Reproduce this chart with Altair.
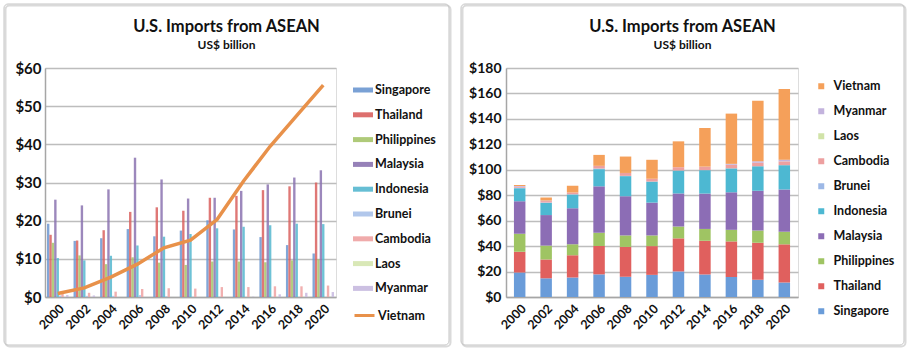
import altair as alt
import pandas as pd

years = ["2000", "2002", "2004", "2006", "2008", "2010", "2012", "2014", "2016", "2018", "2020"]
countries = ["Singapore", "Thailand", "Philippines", "Malaysia", "Indonesia",
             "Brunei", "Cambodia", "Laos", "Myanmar", "Vietnam"]

singapore   = [19.2, 14.7, 15.4, 17.8, 15.9, 17.4, 20.1, 17.7, 15.7, 13.6, 11.4]
thailand    = [16.3, 14.8, 17.5, 22.3, 23.5, 22.6, 26.0, 26.5, 28.0, 29.0, 30.0]
philippines = [14.2, 10.9, 8.6, 10.4, 9.0, 8.4, 9.3, 9.3, 9.1, 9.6, 9.9]
malaysia    = [25.5, 24.0, 28.2, 36.5, 30.8, 25.8, 26.0, 27.8, 29.5, 31.3, 33.2]
indonesia   = [10.2, 9.6, 10.8, 13.5, 15.8, 16.5, 18.0, 18.4, 18.8, 19.2, 19.1]
brunei      = [0.4, 0.3, 0.3, 0.5, 0.2, 0.05, 0.03, 0.02, 0.02, 0.02, 0.02]
cambodia    = [0.9, 1.1, 1.4, 2.1, 2.3, 2.2, 2.6, 2.6, 2.8, 2.8, 3.0]
laos        = [0.0, 0.0, 0.0, 0.0, 0.0, 0.0, 0.02, 0.03, 0.03, 0.05, 0.06]
myanmar     = [0.5, 0.4, 0.0, 0.0, 0.0, 0.0, 0.0, 0.1, 0.7, 1.1, 1.3]
vietnam     = [0.9, 2.4, 5.2, 8.6, 12.9, 14.9, 20.3, 30.4, 39.5, 47.5, 55.5]

title_text = ["U.S. Imports from ASEAN"]
subtitle_text = ["US$ billion"]
left_ticks = [0, 10, 20, 30, 40, 50, 60]
right_ticks = [0, 20, 40, 60, 80, 100, 120, 140, 160, 180]

left_colors = ["#6C97D0", "#D9605E", "#A6C46A", "#8B73B0", "#55B7CF",
               "#A9C1E9", "#EEA2A2", "#D5E5AF", "#C7B9DF"]
line_color = "#E8914A"
right_colors = ["#6A9CD9", "#E0605E", "#9FC463", "#8C6DB5", "#4DB8D2",
                "#9DB8E6", "#EDA0A0", "#D1E3A8", "#C3B3DD", "#F5A05A"]

series = dict(zip(countries, [singapore, thailand, philippines, malaysia, indonesia,
                              brunei, cambodia, laos, myanmar, vietnam]))
rows = []
for ci, c in enumerate(countries):
    for y, v in zip(years, series[c]):
        rows.append({"year": y, "country": c, "value": v, "order": ci})
df = pd.DataFrame(rows)

FONT = "Lato"
TXT = "#111111"
GRID = "#BDBDBD"
DOMAIN = "#A6A6A6"
W, H = 291, 229


def frame(x0, x1):
    one = pd.DataFrame({"k": [0]})
    shadow = alt.Chart(one).mark_rect(fillOpacity=0, stroke="#DADADA", strokeWidth=2,
                                      cornerRadius=4).encode(
        x=alt.value(x0 + 1.5), x2=alt.value(x1 + 1.5), y=alt.value(-62.5), y2=alt.value(278.5))
    box = alt.Chart(one).mark_rect(fillOpacity=0, stroke="#C4C4C4", strokeWidth=1,
                                   cornerRadius=4).encode(
        x=alt.value(x0), x2=alt.value(x1), y=alt.value(-64), y2=alt.value(277))
    return shadow, box


def titles(cx):
    t = alt.Chart(pd.DataFrame({"t": title_text})).mark_text(
        font=FONT, fontWeight="bold", fontSize=16.5, color=TXT, align="center",
        baseline="alphabetic").encode(text="t:N", x=alt.value(cx), y=alt.value(-36))
    s = alt.Chart(pd.DataFrame({"t": subtitle_text})).mark_text(
        font=FONT, fontWeight="bold", fontSize=12, color=TXT, align="center",
        baseline="alphabetic").encode(text="t:N", x=alt.value(cx), y=alt.value(-19.5))
    return t, s


def y_axis(ticks, size, pad):
    return alt.Axis(values=ticks, labelExpr="'$' + datum.value", grid=True,
                    gridColor=GRID, gridWidth=1.5, ticks=False, domain=True,
                    domainColor=DOMAIN, domainWidth=1.5, labelPadding=pad,
                    labelFontSize=size, labelFont=FONT, labelFontWeight="bold",
                    labelColor=TXT, labelOverlap=False, title=None)


def x_axis():
    return alt.Axis(labelAngle=-45, ticks=False, domain=True, domainColor=DOMAIN,
                    domainWidth=1.5, labelPadding=5, labelFontSize=12.5, labelFont=FONT,
                    labelFontWeight="bold", labelColor=TXT, grid=False, title=None)


base = alt.Chart(df)

# ---- left panel: grouped bars + Vietnam line ----
xL = alt.X("year:N", sort=years, title=None,
           scale=alt.Scale(paddingInner=0.19, paddingOuter=0.075), axis=x_axis())
yL = alt.Y("value:Q", scale=alt.Scale(domain=[0, 60]), axis=y_axis(left_ticks, 15, 4))
bars_l = base.transform_filter(alt.datum.country != "Vietnam").mark_bar(opacity=0.85).encode(
    x=xL,
    xOffset=alt.XOffset("country:N", sort=countries[:9]),
    y=yL,
    color=alt.Color("country:N", scale=alt.Scale(domain=countries[:9], range=left_colors),
                    legend=alt.Legend(orient="none", legendX=308, legendY=12, title=None,
                                      symbolType="M-1,-0.25H1V0.25H-1Z", symbolSize=400,
                                      symbolStrokeWidth=0, symbolOpacity=0.9,
                                      labelFont=FONT, labelFontWeight="bold",
                                      labelFontSize=12.5, labelColor=TXT, labelOffset=2,
                                      rowPadding=7.8)),
)
line_l = base.transform_filter(alt.datum.country == "Vietnam").mark_line(strokeWidth=3.5).encode(
    x=xL,
    y=yL,
    stroke=alt.Stroke("country:N", scale=alt.Scale(domain=["Vietnam"], range=[line_color]),
                      legend=alt.Legend(orient="none", legendX=308, legendY=236, title=None,
                                        symbolType="stroke", symbolSize=400,
                                        symbolStrokeWidth=3, labelFont=FONT,
                                        labelFontWeight="bold", labelFontSize=12.5,
                                        labelColor=TXT, labelOffset=2)),
)
sh_l, fr_l = frame(-41, 404)
t_l, s_l = titles(181.5)
left = alt.layer(sh_l, fr_l, bars_l, line_l, t_l, s_l).properties(width=W, height=H)

# ---- right panel: stacked bars ----
bars_r = base.mark_bar().encode(
    x=alt.X("year:N", sort=years, title=None,
            scale=alt.Scale(paddingInner=0.566, paddingOuter=0.3), axis=x_axis()),
    y=alt.Y("value:Q", stack="zero", scale=alt.Scale(domain=[0, 180]),
            axis=y_axis(right_ticks, 14, 5)),
    color=alt.Color("country:N",
                    scale=alt.Scale(domain=countries[::-1], range=right_colors[::-1]),
                    legend=alt.Legend(orient="none", legendX=309, legendY=12, title=None,
                                      symbolType="square", symbolSize=36,
                                      symbolStrokeWidth=0, labelFont=FONT,
                                      labelFontWeight="bold", labelFontSize=12.5,
                                      labelColor=TXT, labelOffset=6, rowPadding=12)),
    order=alt.Order("order:Q", sort="ascending"),
)
sh_r, fr_r = frame(-45, 398)
t_r, s_r = titles(176.5)
right = alt.layer(sh_r, fr_r, bars_r, t_r, s_r).properties(width=292, height=H)

chart = alt.hconcat(left, right, spacing=8).resolve_scale(
    color="independent", stroke="independent", x="independent", y="independent"
).properties(
    padding={"left": 3, "top": 3, "right": 0, "bottom": 0}
).configure_view(strokeWidth=0).configure(background="white")

chart.save("out.html", embed_options={"renderer": "svg", "actions": False})
